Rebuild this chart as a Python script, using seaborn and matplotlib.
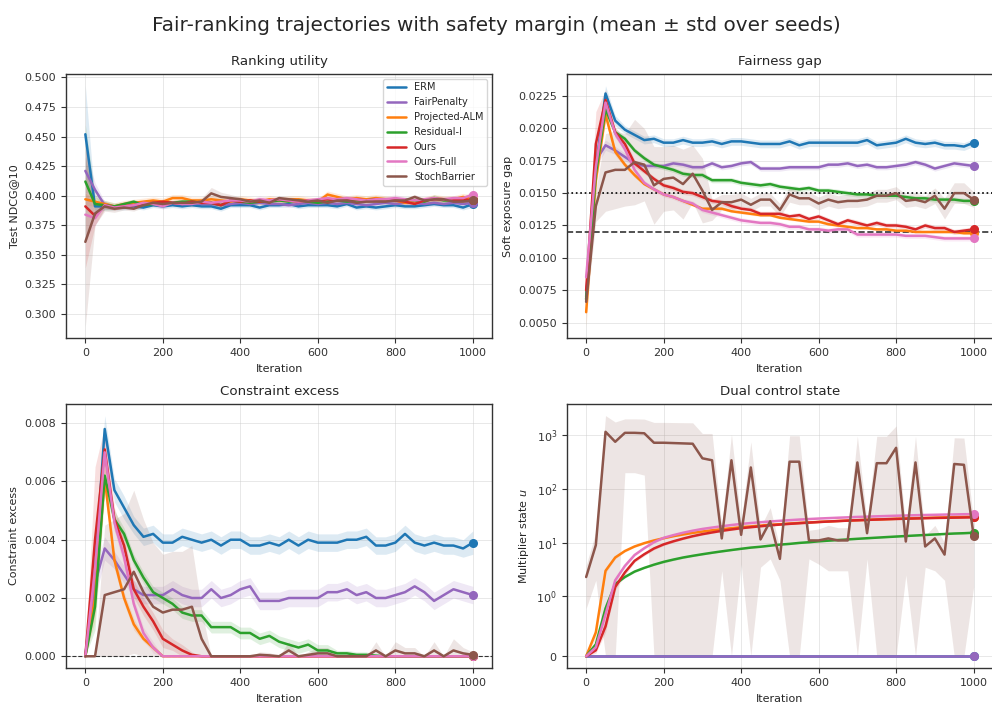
import numpy as np
import matplotlib
matplotlib.use("Agg")
import matplotlib.pyplot as plt
import seaborn as sns

iterations = list(range(0, 1001, 25))

methods = ["ERM", "FairPenalty", "Projected-ALM", "Residual-I", "Ours", "Ours-Full", "StochBarrier"]
colors = ["#1f77b4", "#9467bd", "#ff7f0e", "#2ca02c", "#d62728", "#e377c2", "#8c564b"]

# ---------------- Ranking utility (Test NDCG@10) ----------------
ndcg_erm = [0.452, 0.391, 0.391, 0.390, 0.390, 0.391, 0.390, 0.392, 0.391, 0.392, 0.391, 0.392, 0.391, 0.391,
            0.389, 0.392, 0.392, 0.392, 0.390, 0.392, 0.392, 0.393, 0.391, 0.392, 0.392, 0.392, 0.391, 0.393,
            0.390, 0.391, 0.390, 0.391, 0.392, 0.391, 0.391, 0.392, 0.393, 0.392, 0.392, 0.390, 0.393]
ndcg_fair = [0.421, 0.405, 0.392, 0.391, 0.392, 0.393, 0.393, 0.394, 0.393, 0.394, 0.393, 0.394, 0.393, 0.393,
             0.392, 0.393, 0.394, 0.393, 0.394, 0.393, 0.393, 0.392, 0.393, 0.394, 0.393, 0.394, 0.393, 0.394,
             0.393, 0.392, 0.393, 0.394, 0.393, 0.394, 0.394, 0.393, 0.394, 0.393, 0.394, 0.393, 0.394]
ndcg_palm = [0.397, 0.395, 0.393, 0.391, 0.393, 0.394, 0.395, 0.396, 0.395, 0.398, 0.398, 0.396, 0.396, 0.397,
             0.396, 0.395, 0.397, 0.396, 0.395, 0.397, 0.396, 0.397, 0.397, 0.396, 0.395, 0.401, 0.399, 0.397,
             0.398, 0.397, 0.398, 0.397, 0.396, 0.394, 0.395, 0.396, 0.398, 0.397, 0.397, 0.399, 0.397]
ndcg_resid = [0.412, 0.393, 0.392, 0.391, 0.393, 0.395, 0.392, 0.393, 0.394, 0.394, 0.395, 0.395, 0.394, 0.394,
              0.392, 0.396, 0.395, 0.394, 0.395, 0.395, 0.396, 0.395, 0.396, 0.395, 0.394, 0.395, 0.396, 0.395,
              0.396, 0.396, 0.397, 0.396, 0.396, 0.397, 0.396, 0.395, 0.398, 0.396, 0.396, 0.396, 0.396]
ndcg_ours = [0.391, 0.383, 0.392, 0.390, 0.391, 0.392, 0.393, 0.394, 0.395, 0.394, 0.393, 0.395, 0.394, 0.394,
             0.392, 0.396, 0.395, 0.396, 0.395, 0.396, 0.397, 0.396, 0.395, 0.396, 0.396, 0.397, 0.396, 0.397,
             0.397, 0.396, 0.397, 0.397, 0.396, 0.395, 0.393, 0.396, 0.397, 0.397, 0.396, 0.397, 0.396]
ndcg_full = [0.384, 0.381, 0.392, 0.390, 0.391, 0.392, 0.394, 0.393, 0.391, 0.394, 0.393, 0.393, 0.395, 0.394,
             0.395, 0.396, 0.396, 0.395, 0.397, 0.396, 0.397, 0.396, 0.395, 0.396, 0.397, 0.398, 0.397, 0.398,
             0.397, 0.396, 0.397, 0.397, 0.398, 0.397, 0.396, 0.397, 0.398, 0.397, 0.398, 0.398, 0.401]
ndcg_stoch = [0.361, 0.385, 0.391, 0.389, 0.390, 0.389, 0.392, 0.394, 0.393, 0.394, 0.394, 0.394, 0.395, 0.402,
              0.399, 0.398, 0.397, 0.395, 0.396, 0.394, 0.398, 0.397, 0.396, 0.395, 0.396, 0.394, 0.396, 0.396,
              0.394, 0.395, 0.395, 0.395, 0.396, 0.396, 0.399, 0.396, 0.397, 0.397, 0.395, 0.395, 0.396]

ndcg_sd_erm = [0.041, 0.004, 0.003, 0.002, 0.002, 0.002, 0.002, 0.002, 0.002, 0.002, 0.002, 0.002, 0.002, 0.002,
               0.002, 0.002, 0.002, 0.002, 0.002, 0.002, 0.002, 0.002, 0.002, 0.002, 0.002, 0.002, 0.002, 0.002,
               0.002, 0.002, 0.002, 0.002, 0.002, 0.002, 0.002, 0.002, 0.002, 0.002, 0.002, 0.002, 0.003]
ndcg_sd_fair = [0.018, 0.006, 0.003, 0.002, 0.002, 0.002, 0.002, 0.002, 0.002, 0.002, 0.002, 0.002, 0.002, 0.002,
                0.002, 0.002, 0.002, 0.002, 0.002, 0.002, 0.002, 0.002, 0.002, 0.002, 0.002, 0.002, 0.002, 0.002,
                0.002, 0.002, 0.002, 0.002, 0.002, 0.002, 0.002, 0.002, 0.002, 0.002, 0.002, 0.002, 0.003]
ndcg_sd_palm = [0.005, 0.004, 0.003, 0.003, 0.003, 0.003, 0.003, 0.003, 0.003, 0.003, 0.003, 0.003, 0.003, 0.003,
                0.003, 0.003, 0.003, 0.003, 0.003, 0.003, 0.003, 0.003, 0.003, 0.003, 0.003, 0.003, 0.003, 0.003,
                0.003, 0.003, 0.003, 0.003, 0.003, 0.003, 0.003, 0.003, 0.003, 0.003, 0.003, 0.003, 0.003]
ndcg_sd_resid = [0.048, 0.008, 0.004, 0.003, 0.002, 0.002, 0.002, 0.002, 0.002, 0.002, 0.002, 0.002, 0.002, 0.002,
                 0.002, 0.002, 0.002, 0.002, 0.002, 0.002, 0.002, 0.002, 0.002, 0.002, 0.002, 0.002, 0.002, 0.002,
                 0.002, 0.002, 0.002, 0.003, 0.002, 0.002, 0.002, 0.002, 0.003, 0.002, 0.002, 0.002, 0.003]
ndcg_sd_ours = [0.052, 0.008, 0.003, 0.002, 0.002, 0.002, 0.002, 0.002, 0.002, 0.002, 0.002, 0.002, 0.002, 0.002,
                0.002, 0.002, 0.002, 0.002, 0.002, 0.002, 0.002, 0.002, 0.002, 0.002, 0.002, 0.002, 0.002, 0.002,
                0.002, 0.002, 0.002, 0.002, 0.002, 0.002, 0.002, 0.002, 0.002, 0.002, 0.002, 0.002, 0.003]
ndcg_sd_full = [0.020, 0.006, 0.003, 0.002, 0.002, 0.002, 0.002, 0.002, 0.002, 0.002, 0.002, 0.002, 0.002, 0.002,
                0.002, 0.002, 0.002, 0.002, 0.003, 0.002, 0.002, 0.002, 0.002, 0.002, 0.002, 0.002, 0.003, 0.002,
                0.002, 0.002, 0.002, 0.002, 0.003, 0.002, 0.002, 0.002, 0.002, 0.002, 0.002, 0.002, 0.003]
ndcg_sd_stoch = [0.0715, 0.010, 0.004, 0.003, 0.002, 0.002, 0.002, 0.002, 0.002, 0.002, 0.003, 0.003, 0.003, 0.005,
                 0.004, 0.003, 0.002, 0.002, 0.002, 0.002, 0.002, 0.002, 0.002, 0.002, 0.002, 0.002, 0.002, 0.002,
                 0.002, 0.002, 0.002, 0.002, 0.002, 0.002, 0.002, 0.002, 0.002, 0.002, 0.002, 0.002, 0.002]

# ---------------- Fairness gap (soft exposure gap) ----------------
gap_erm = [0.0068, 0.0170, 0.0227, 0.0206, 0.0199, 0.0195, 0.0191, 0.0192, 0.0189, 0.0189, 0.0191, 0.0189,
           0.0189, 0.0190, 0.0188, 0.0190, 0.0190, 0.0189, 0.0188, 0.0188, 0.0188, 0.0190, 0.0187, 0.0189,
           0.0189, 0.0189, 0.0189, 0.0189, 0.0189, 0.0191, 0.0187, 0.0188, 0.0189, 0.0192, 0.0189, 0.0188,
           0.0189, 0.0187, 0.0187, 0.0186, 0.0189]
gap_fair = [0.0070, 0.0175, 0.0187, 0.0183, 0.0178, 0.0173, 0.0171, 0.0171, 0.0171, 0.0173, 0.0172, 0.0170,
            0.0170, 0.0173, 0.0170, 0.0171, 0.0173, 0.0174, 0.0169, 0.0169, 0.0169, 0.0170, 0.0170, 0.0170,
            0.0170, 0.0172, 0.0172, 0.0173, 0.0171, 0.0172, 0.0170, 0.0170, 0.0171, 0.0172, 0.0174, 0.0172,
            0.0169, 0.0171, 0.0173, 0.0172, 0.0171]
gap_palm = [0.0058, 0.0160, 0.0211, 0.0182, 0.0172, 0.0164, 0.0157, 0.0153, 0.0149, 0.0147, 0.0144, 0.0141,
            0.0138, 0.0138, 0.0138, 0.0136, 0.0135, 0.0134, 0.0133, 0.0133, 0.0131, 0.0130, 0.0129, 0.0128,
            0.0128, 0.0126, 0.0125, 0.0124, 0.0123, 0.0123, 0.0122, 0.0122, 0.0121, 0.0121, 0.0120, 0.0120,
            0.0120, 0.0120, 0.0120, 0.0119, 0.0119]
gap_resid = [0.0068, 0.0165, 0.0215, 0.0197, 0.0192, 0.0183, 0.0177, 0.0172, 0.0170, 0.0168, 0.0165, 0.0164,
             0.0164, 0.0160, 0.0160, 0.0160, 0.0158, 0.0157, 0.0156, 0.0157, 0.0155, 0.0154, 0.0153, 0.0154,
             0.0152, 0.0152, 0.0151, 0.0150, 0.0149, 0.0149, 0.0148, 0.0148, 0.0148, 0.0147, 0.0146, 0.0146,
             0.0145, 0.0145, 0.0145, 0.0144, 0.0144]
gap_ours = [0.0075, 0.0188, 0.0222, 0.0197, 0.0188, 0.0173, 0.0167, 0.0161, 0.0156, 0.0154, 0.0151, 0.0150,
            0.0147, 0.0144, 0.0143, 0.0140, 0.0138, 0.0137, 0.0134, 0.0134, 0.0134, 0.0132, 0.0133, 0.0130,
            0.0132, 0.0129, 0.0126, 0.0129, 0.0127, 0.0125, 0.0127, 0.0125, 0.0125, 0.0124, 0.0122, 0.0125,
            0.0123, 0.0123, 0.0120, 0.0121, 0.0122]
gap_full = [0.0085, 0.0170, 0.0220, 0.0196, 0.0184, 0.0168, 0.0158, 0.0153, 0.0149, 0.0147, 0.0144, 0.0142,
            0.0137, 0.0135, 0.0133, 0.0131, 0.0129, 0.0128, 0.0127, 0.0127, 0.0126, 0.0124, 0.0124, 0.0122,
            0.0122, 0.0121, 0.0122, 0.0122, 0.0118, 0.0118, 0.0118, 0.0118, 0.0118, 0.0117, 0.0117, 0.0117,
            0.0116, 0.0115, 0.0115, 0.0115, 0.0115]
gap_stoch = [0.0066, 0.0140, 0.0166, 0.0168, 0.0168, 0.0174, 0.0172, 0.0156, 0.0161, 0.0162, 0.0157, 0.0165,
             0.0152, 0.0137, 0.0143, 0.0143, 0.0145, 0.0141, 0.0145, 0.0145, 0.0137, 0.0149, 0.0146, 0.0146,
             0.0142, 0.0145, 0.0143, 0.0144, 0.0144, 0.0145, 0.0148, 0.0148, 0.0150, 0.0144, 0.0145, 0.0143,
             0.0148, 0.0138, 0.0150, 0.0150, 0.0145]

gap_sd_erm = [0.0008, 0.0006, 0.0006, 0.0004, 0.0003, 0.0003, 0.0003, 0.0003, 0.0003, 0.0003, 0.0003, 0.0003,
              0.0003, 0.0003, 0.0003, 0.0003, 0.0003, 0.0003, 0.0003, 0.0003, 0.0003, 0.0003, 0.0003, 0.0003,
              0.0003, 0.0003, 0.0003, 0.0003, 0.0003, 0.0003, 0.0003, 0.0003, 0.0003, 0.0003, 0.0003, 0.0003,
              0.0003, 0.0003, 0.0003, 0.0003, 0.0003]
gap_sd_fair = [0.0008, 0.0005, 0.0004, 0.0003, 0.0003, 0.0002, 0.0002, 0.0002, 0.0002, 0.0002, 0.0002, 0.0002,
               0.0002, 0.0002, 0.0002, 0.0002, 0.0002, 0.0002, 0.0002, 0.0002, 0.0002, 0.0002, 0.0002, 0.0002,
               0.0002, 0.0002, 0.0002, 0.0002, 0.0002, 0.0002, 0.0002, 0.0002, 0.0002, 0.0002, 0.0002, 0.0002,
               0.0002, 0.0002, 0.0002, 0.0002, 0.0002]
gap_sd_palm = [0.0011, 0.0008, 0.0005, 0.0003, 0.0002, 0.0002, 0.0001, 0.0001, 0.0001, 0.0001, 0.0001, 0.0001,
               0.0001, 0.0001, 0.0001, 0.0001, 0.0001, 0.0001, 0.0001, 0.0001, 0.0001, 0.0001, 0.0001, 0.0001,
               0.0001, 0.0001, 0.0001, 0.0001, 0.0001, 0.0001, 0.0001, 0.0001, 0.0001, 0.0001, 0.0001, 0.0001,
               0.0001, 0.0001, 0.0001, 0.0001, 0.0001]
gap_sd_resid = [0.0009, 0.0008, 0.0005, 0.0003, 0.0002, 0.0002, 0.0002, 0.0002, 0.0002, 0.0002, 0.0002, 0.0002,
                0.0002, 0.0002, 0.0002, 0.0002, 0.0002, 0.0002, 0.0002, 0.0002, 0.0002, 0.0002, 0.0002, 0.0002,
                0.0002, 0.0002, 0.0002, 0.0002, 0.0002, 0.0002, 0.0002, 0.0002, 0.0002, 0.0002, 0.0002, 0.0002,
                0.0002, 0.0002, 0.0002, 0.0002, 0.0002]
gap_sd_ours = [0.0009, 0.0025, 0.0008, 0.0004, 0.0003, 0.0003, 0.0002, 0.0002, 0.0002, 0.0002, 0.0002, 0.0002,
               0.0002, 0.0002, 0.0002, 0.0002, 0.0002, 0.0002, 0.0002, 0.0002, 0.0002, 0.0002, 0.0002, 0.0002,
               0.0002, 0.0002, 0.0002, 0.0002, 0.0002, 0.0002, 0.0002, 0.0002, 0.0002, 0.0002, 0.0002, 0.0002,
               0.0002, 0.0002, 0.0002, 0.0002, 0.0002]
gap_sd_full = [0.0008, 0.0010, 0.0006, 0.0003, 0.0003, 0.0002, 0.0002, 0.0002, 0.0002, 0.0002, 0.0002, 0.0002,
               0.0002, 0.0002, 0.0002, 0.0002, 0.0002, 0.0002, 0.0002, 0.0002, 0.0002, 0.0002, 0.0002, 0.0002,
               0.0002, 0.0002, 0.0002, 0.0002, 0.0002, 0.0002, 0.0002, 0.0002, 0.0002, 0.0002, 0.0002, 0.0002,
               0.0002, 0.0002, 0.0002, 0.0002, 0.0002]
gap_sd_stoch = [0.0008, 0.0012, 0.0030, 0.0030, 0.0028, 0.0033, 0.0028, 0.0030, 0.0025, 0.0025, 0.0027, 0.0022,
                0.0025, 0.0008, 0.0006, 0.0006, 0.0005, 0.0005, 0.0005, 0.0005, 0.0005, 0.0006, 0.0005, 0.0005,
                0.0005, 0.0005, 0.0005, 0.0005, 0.0005, 0.0005, 0.0005, 0.0005, 0.0005, 0.0005, 0.0005, 0.0005,
                0.0006, 0.0008, 0.0008, 0.0008, 0.0006]

# ---------------- Constraint excess ----------------
exc_erm = [0.0000, 0.0030, 0.0078, 0.0057, 0.0051, 0.0045, 0.0041, 0.0042, 0.0039, 0.0039, 0.0041, 0.0040,
           0.0039, 0.0040, 0.0038, 0.0040, 0.0040, 0.0038, 0.0038, 0.0039, 0.0038, 0.0040, 0.0038, 0.0040,
           0.0039, 0.0039, 0.0039, 0.0040, 0.0040, 0.0041, 0.0038, 0.0038, 0.0039, 0.0042, 0.0039, 0.0038,
           0.0039, 0.0038, 0.0038, 0.0037, 0.0039]
exc_fair = [0.0000, 0.0025, 0.0037, 0.0033, 0.0028, 0.0023, 0.0021, 0.0021, 0.0021, 0.0023, 0.0021, 0.0020,
            0.0020, 0.0023, 0.0020, 0.0021, 0.0023, 0.0024, 0.0019, 0.0019, 0.0019, 0.0020, 0.0020, 0.0020,
            0.0020, 0.0022, 0.0022, 0.0023, 0.0021, 0.0022, 0.0020, 0.0020, 0.0021, 0.0022, 0.0024, 0.0022,
            0.0019, 0.0021, 0.0023, 0.0022, 0.0021]
exc_palm = [0.0000, 0.0020, 0.0061, 0.0033, 0.0020, 0.0011, 0.0006, 0.0003, 0.0000, 0.0000, 0.0000, 0.0000,
            0.0000, 0.0000, 0.0000, 0.0000, 0.0000, 0.0000, 0.0000, 0.0000, 0.0000, 0.0000, 0.0000, 0.0000,
            0.0000, 0.0000, 0.0000, 0.0000, 0.0000, 0.0000, 0.0000, 0.0000, 0.0000, 0.0000, 0.0000, 0.0000,
            0.0000, 0.0000, 0.0000, 0.0000, 0.0000]
exc_resid = [0.0000, 0.0017, 0.0062, 0.0047, 0.0042, 0.0033, 0.0027, 0.0022, 0.0020, 0.0018, 0.0015, 0.0014,
             0.0014, 0.0010, 0.0010, 0.0010, 0.0008, 0.0008, 0.0006, 0.0007, 0.0005, 0.0004, 0.0003, 0.0004,
             0.0002, 0.0002, 0.0001, 0.0001, 0.00005, 0.00005, 0.00002, 0.0000, 0.0000, 0.0000, 0.0000, 0.0000,
             0.0000, 0.0000, 0.0000, 0.0000, 0.0000]
exc_ours = [0.0000, 0.0040, 0.0071, 0.0047, 0.0038, 0.0023, 0.0017, 0.0012, 0.0006, 0.0004, 0.0002, 0.00005,
            0.0000, 0.0000, 0.0000, 0.0000, 0.0000, 0.0000, 0.0000, 0.0000, 0.0000, 0.0000, 0.0000, 0.0000,
            0.0000, 0.0000, 0.0000, 0.0000, 0.0000, 0.0000, 0.0000, 0.0000, 0.0000, 0.0000, 0.0000, 0.0000,
            0.0000, 0.0000, 0.0000, 0.0000, 0.0000]
exc_full = [0.0000, 0.0030, 0.0070, 0.0046, 0.0034, 0.0018, 0.0008, 0.0003, 0.0000, 0.0000, 0.0000, 0.0000,
            0.0000, 0.0000, 0.0000, 0.0000, 0.0000, 0.0000, 0.0000, 0.0000, 0.0000, 0.0000, 0.0000, 0.0000,
            0.0000, 0.0000, 0.0000, 0.0000, 0.0000, 0.0000, 0.0000, 0.0000, 0.0000, 0.0000, 0.0000, 0.0000,
            0.0000, 0.0000, 0.0000, 0.0000, 0.0000]
exc_stoch = [0.0000, 0.0000, 0.0021, 0.0022, 0.0023, 0.0029, 0.0022, 0.0017, 0.0015, 0.0016, 0.0016, 0.0017,
             0.0006, 0.0000, 0.0000, 0.0000, 0.0000, 0.0000, 0.00005, 0.00003, 0.0000, 0.0002, 0.0000, 0.00005,
             0.0001, 0.0001, 0.0000, 0.0000, 0.0000, 0.0000, 0.0002, 0.0000, 0.0002, 0.0001, 0.0001, 0.0000,
             0.0002, 0.0000, 0.0002, 0.0001, 0.00005]

exc_sd_erm = [0.0000, 0.0008, 0.00046, 0.0004, 0.0004, 0.0003, 0.0003, 0.0003, 0.0003, 0.0003, 0.0003, 0.0003,
              0.0003, 0.0003, 0.0003, 0.0003, 0.0003, 0.0003, 0.0003, 0.0003, 0.0003, 0.0003, 0.0003, 0.0003,
              0.0003, 0.0003, 0.0003, 0.0003, 0.0003, 0.0003, 0.0003, 0.0003, 0.0003, 0.0003, 0.0003, 0.0003,
              0.0003, 0.0003, 0.0003, 0.0003, 0.0004]
exc_sd_fair = [0.0000, 0.0005, 0.0004, 0.0003, 0.0003, 0.0003, 0.0003, 0.0003, 0.0003, 0.0003, 0.0003, 0.0003,
               0.0003, 0.0003, 0.0003, 0.0003, 0.0003, 0.0003, 0.0003, 0.0003, 0.0003, 0.0003, 0.0003, 0.0003,
               0.0003, 0.0003, 0.0003, 0.0003, 0.0003, 0.0003, 0.0003, 0.0003, 0.0003, 0.0003, 0.0003, 0.0003,
               0.0003, 0.0003, 0.0003, 0.0003, 0.0003]
exc_sd_palm = [0.0000, 0.0008, 0.0005, 0.0003, 0.0002, 0.0002, 0.0001, 0.0001, 0.0000, 0.0000, 0.0000, 0.0000,
               0.0000, 0.0000, 0.0000, 0.0000, 0.0000, 0.0000, 0.0000, 0.0000, 0.0000, 0.0000, 0.0000, 0.0000,
               0.0000, 0.0000, 0.0000, 0.0000, 0.0000, 0.0000, 0.0000, 0.0000, 0.0000, 0.0000, 0.0000, 0.0000,
               0.0000, 0.0000, 0.0000, 0.0000, 0.0000]
exc_sd_resid = [0.0000, 0.0008, 0.0005, 0.0003, 0.0002, 0.0002, 0.0002, 0.0002, 0.0002, 0.0002, 0.0002, 0.0002,
                0.0002, 0.0002, 0.0002, 0.0002, 0.0002, 0.0002, 0.0002, 0.0002, 0.0002, 0.0002, 0.0002, 0.0002,
                0.0002, 0.0002, 0.0001, 0.0001, 0.0001, 0.0001, 0.00005, 0.0000, 0.0000, 0.0000, 0.0000, 0.0000,
                0.0000, 0.0000, 0.0000, 0.0000, 0.0000]
exc_sd_ours = [0.0000, 0.0025, 0.0008, 0.0004, 0.0003, 0.0003, 0.0003, 0.0003, 0.0003, 0.0002, 0.0002, 0.0001,
               0.0000, 0.0000, 0.0000, 0.0000, 0.0000, 0.0000, 0.0000, 0.0000, 0.0000, 0.0000, 0.0000, 0.0000,
               0.0000, 0.0000, 0.0000, 0.0000, 0.0000, 0.0000, 0.0000, 0.0000, 0.0000, 0.0000, 0.0000, 0.0000,
               0.0000, 0.0000, 0.0000, 0.0000, 0.0000]
exc_sd_full = [0.0000, 0.0010, 0.0006, 0.0003, 0.0003, 0.0002, 0.0002, 0.0002, 0.0000, 0.0000, 0.0000, 0.0000,
               0.0000, 0.0000, 0.0000, 0.0000, 0.0000, 0.0000, 0.0000, 0.0000, 0.0000, 0.0000, 0.0000, 0.0000,
               0.0000, 0.0000, 0.0000, 0.0000, 0.0000, 0.0000, 0.0000, 0.0000, 0.0000, 0.0000, 0.0000, 0.0000,
               0.0000, 0.0000, 0.0000, 0.0000, 0.0000]
exc_sd_stoch = [0.0000, 0.0000, 0.0024, 0.0025, 0.0026, 0.0028, 0.0025, 0.0022, 0.0020, 0.0020, 0.0020, 0.0021,
                0.0010, 0.0000, 0.0000, 0.0000, 0.0000, 0.0000, 0.0001, 0.0001, 0.0000, 0.0003, 0.0000, 0.0001,
                0.0002, 0.0002, 0.0000, 0.0000, 0.0000, 0.0000, 0.0003, 0.0000, 0.0003, 0.0002, 0.0002, 0.0000,
                0.0003, 0.0000, 0.0004, 0.0002, 0.0001]

# ---------------- Dual control state (multiplier u) ----------------
dual_erm = [0.0, 0.0, 0.0, 0.0, 0.0, 0.0, 0.0, 0.0, 0.0, 0.0, 0.0, 0.0, 0.0, 0.0, 0.0, 0.0, 0.0, 0.0, 0.0, 0.0,
            0.0, 0.0, 0.0, 0.0, 0.0, 0.0, 0.0, 0.0, 0.0, 0.0, 0.0, 0.0, 0.0, 0.0, 0.0, 0.0, 0.0, 0.0, 0.0, 0.0, 0.0]
dual_fair = [0.0, 0.0, 0.0, 0.0, 0.0, 0.0, 0.0, 0.0, 0.0, 0.0, 0.0, 0.0, 0.0, 0.0, 0.0, 0.0, 0.0, 0.0, 0.0, 0.0,
             0.0, 0.0, 0.0, 0.0, 0.0, 0.0, 0.0, 0.0, 0.0, 0.0, 0.0, 0.0, 0.0, 0.0, 0.0, 0.0, 0.0, 0.0, 0.0, 0.0, 0.0]
dual_palm = [0.0, 0.4, 3.0, 5.3, 7.0, 8.5, 9.8, 11.0, 12.1, 13.2, 14.2, 15.2, 16.1, 17.0, 17.8, 18.6, 19.4, 20.1,
             20.8, 21.5, 22.1, 22.7, 23.3, 23.8, 24.3, 24.8, 25.3, 25.8, 26.2, 26.6, 27.0, 27.4, 27.8, 28.2, 28.6,
             28.9, 29.2, 29.5, 29.8, 30.1, 30.4]
dual_resid = [0.0, 0.2, 0.8, 1.7, 2.3, 2.9, 3.4, 3.9, 4.4, 4.85, 5.3, 5.7, 6.1, 6.5, 6.9, 7.3, 7.7, 8.1, 8.4, 8.8,
              9.2, 9.5, 9.9, 10.2, 10.6, 10.9, 11.2, 11.5, 11.8, 12.1, 12.4, 12.7, 13.0, 13.3, 13.6, 13.9, 14.2,
              14.5, 14.8, 15.0, 15.3]
dual_ours = [0.0, 0.1, 0.5, 1.5, 2.8, 4.6, 6.1, 7.8, 9.3, 10.6, 11.9, 13.2, 14.4, 15.5, 16.6, 17.6, 18.6, 19.4,
             20.2, 21.0, 21.7, 22.4, 23.0, 23.6, 24.2, 24.7, 25.2, 25.7, 26.1, 26.5, 26.9, 27.3, 27.6, 27.9, 28.2,
             28.5, 28.8, 29.0, 29.2, 29.4, 29.6]
dual_full = [0.0, 0.15, 0.7, 2.0, 3.7, 5.9, 7.9, 10.2, 12.3, 13.8, 15.3, 16.7, 18.0, 19.1, 20.2, 21.3, 22.3, 23.2,
             24.0, 24.8, 25.5, 26.2, 26.9, 27.5, 28.1, 28.6, 29.1, 29.6, 30.1, 30.5, 30.9, 31.3, 31.7, 32.0, 32.4,
             32.7, 33.0, 33.3, 33.5, 33.8, 34.0]
dual_stoch = [2.3, 9.0, 1150.0, 750.0, 1100.0, 1100.0, 1080.0, 720.0, 720.0, 710.0, 700.0, 690.0, 370.0, 340.0,
              12.0, 340.0, 14.0, 250.0, 11.5, 25.0, 5.0, 320.0, 320.0, 11.0, 11.0, 12.0, 11.0, 11.0, 310.0, 15.0,
              300.0, 300.0, 580.0, 10.5, 310.0, 8.5, 12.0, 6.0, 290.0, 280.0, 13.5]

dual_sd_erm = [0.0, 0.0, 0.0, 0.0, 0.0, 0.0, 0.0, 0.0, 0.0, 0.0, 0.0, 0.0, 0.0, 0.0, 0.0, 0.0, 0.0, 0.0, 0.0, 0.0,
               0.0, 0.0, 0.0, 0.0, 0.0, 0.0, 0.0, 0.0, 0.0, 0.0, 0.0, 0.0, 0.0, 0.0, 0.0, 0.0, 0.0, 0.0, 0.0, 0.0, 0.0]
dual_sd_fair = [0.0, 0.0, 0.0, 0.0, 0.0, 0.0, 0.0, 0.0, 0.0, 0.0, 0.0, 0.0, 0.0, 0.0, 0.0, 0.0, 0.0, 0.0, 0.0, 0.0,
                0.0, 0.0, 0.0, 0.0, 0.0, 0.0, 0.0, 0.0, 0.0, 0.0, 0.0, 0.0, 0.0, 0.0, 0.0, 0.0, 0.0, 0.0, 0.0, 0.0, 0.0]
dual_sd_palm = [0.0, 0.1, 0.3, 0.3, 0.3, 0.3, 0.4, 0.4, 0.4, 0.4, 0.4, 0.5, 0.5, 0.5, 0.5, 0.5, 0.5, 0.5, 0.6, 0.6,
                0.6, 0.6, 0.6, 0.6, 0.6, 0.6, 0.7, 0.7, 0.7, 0.7, 0.7, 0.7, 0.7, 0.7, 0.8, 0.8, 0.8, 0.8, 0.8, 0.8, 0.8]
dual_sd_resid = [0.0, 0.05, 0.1, 0.1, 0.1, 0.1, 0.1, 0.1, 0.2, 0.2, 0.2, 0.2, 0.2, 0.2, 0.2, 0.2, 0.2, 0.2, 0.2,
                 0.2, 0.3, 0.3, 0.3, 0.3, 0.3, 0.3, 0.3, 0.3, 0.3, 0.3, 0.3, 0.3, 0.3, 0.3, 0.3, 0.3, 0.4, 0.4, 0.4,
                 0.4, 0.4]
dual_sd_ours = [0.0, 0.05, 0.1, 0.2, 0.3, 0.3, 0.4, 0.4, 0.5, 0.5, 0.5, 0.6, 0.6, 0.6, 0.6, 0.7, 0.7, 0.7, 0.7,
                0.7, 0.8, 0.8, 0.8, 0.8, 0.8, 0.8, 0.9, 0.9, 0.9, 0.9, 0.9, 0.9, 0.9, 0.9, 1.0, 1.0, 1.0, 1.0, 1.0,
                1.0, 1.0]
dual_sd_full = [0.0, 0.05, 0.1, 0.2, 0.3, 0.3, 0.4, 0.4, 0.5, 0.5, 0.5, 0.6, 0.6, 0.6, 0.6, 0.7, 0.7, 0.7, 0.7,
                0.7, 0.8, 0.8, 0.8, 0.8, 0.8, 0.8, 0.9, 0.9, 0.9, 0.9, 0.9, 0.9, 0.9, 0.9, 1.0, 1.0, 1.0, 1.0, 1.0,
                1.0, 1.0]
dual_sd_stoch = [1.5, 7.0, 1150.0, 1000.0, 900.0, 900.0, 900.0, 1000.0, 1000.0, 1000.0, 1000.0, 1000.0, 700.0,
                 730.0, 9.0, 700.0, 10.0, 500.0, 8.0, 20.0, 3.0, 650.0, 650.0, 6.0, 7.0, 9.0, 8.0, 8.0, 650.0, 10.0,
                 650.0, 650.0, 900.0, 8.0, 650.0, 5.0, 9.0, 4.0, 600.0, 600.0, 12.0]

ndcg_means = [ndcg_erm, ndcg_fair, ndcg_palm, ndcg_resid, ndcg_ours, ndcg_full, ndcg_stoch]
ndcg_sds = [ndcg_sd_erm, ndcg_sd_fair, ndcg_sd_palm, ndcg_sd_resid, ndcg_sd_ours, ndcg_sd_full, ndcg_sd_stoch]
gap_means = [gap_erm, gap_fair, gap_palm, gap_resid, gap_ours, gap_full, gap_stoch]
gap_sds = [gap_sd_erm, gap_sd_fair, gap_sd_palm, gap_sd_resid, gap_sd_ours, gap_sd_full, gap_sd_stoch]
exc_means = [exc_erm, exc_fair, exc_palm, exc_resid, exc_ours, exc_full, exc_stoch]
exc_sds = [exc_sd_erm, exc_sd_fair, exc_sd_palm, exc_sd_resid, exc_sd_ours, exc_sd_full, exc_sd_stoch]
dual_means = [dual_erm, dual_fair, dual_palm, dual_resid, dual_ours, dual_full, dual_stoch]
dual_sds = [dual_sd_erm, dual_sd_fair, dual_sd_palm, dual_sd_resid, dual_sd_ours, dual_sd_full, dual_sd_stoch]

for group in (ndcg_means, ndcg_sds, gap_means, gap_sds, exc_means, exc_sds, dual_means, dual_sds):
    for arr in group:
        assert len(arr) == len(iterations), len(arr)

gap_threshold = 0.015
gap_target = 0.012

# ---------------- style ----------------
sns.set_theme(style="ticks")
plt.rcParams.update({
    "font.family": ["DejaVu Sans"],
    "font.size": 8,
    "axes.titlesize": 9.6,
    "axes.labelsize": 8,
    "xtick.labelsize": 8,
    "ytick.labelsize": 8,
    "axes.edgecolor": "#333333",
    "axes.linewidth": 1.0,
    "xtick.color": "#333333",
    "ytick.color": "#333333",
    "xtick.major.size": 3.5,
    "ytick.major.size": 3.5,
    "xtick.major.width": 0.8,
    "ytick.major.width": 0.8,
})

fig, axes = plt.subplots(2, 2, figsize=(9.92, 7.02), dpi=100)
fig.subplots_adjust(left=0.0665, right=1.001, top=0.895, bottom=0.048, wspace=0.175, hspace=0.246)

x = np.array(iterations)


def draw_panel(ax, means, sds, clip_zero=False, legend=False):
    for name, col, m, s in zip(methods, colors, means, sds):
        m = np.asarray(m, dtype=float)
        s = np.asarray(s, dtype=float)
        lo = m - s
        if clip_zero:
            lo = np.maximum(lo, 0.0)
        ax.fill_between(x, lo, m + s, color=col, alpha=0.15, linewidth=0)
        sns.lineplot(x=x, y=m, color=col, linewidth=1.8, label=name if legend else None,
                     legend=False, ax=ax)
        ax.plot(x[-1:], m[-1:], "o", color=col, markersize=5.5)
    ax.grid(True, color="#cccccc", alpha=0.45, linewidth=0.7)
    ax.set_xlabel("Iteration")


ax = axes[0, 0]
draw_panel(ax, ndcg_means, ndcg_sds, legend=True)
ax.set_title("Ranking utility")
ax.set_ylabel("Test NDCG@10")
ax.legend(loc="upper right", fontsize=7, frameon=True, framealpha=0.8, edgecolor="#cccccc",
          handlelength=2.0, borderpad=0.4, labelspacing=0.5)

ax = axes[0, 1]
draw_panel(ax, gap_means, gap_sds)
ax.axhline(gap_threshold, color="black", linestyle=":", linewidth=1.2, zorder=1)
ax.axhline(gap_target, color="#333333", linestyle="--", linewidth=1.2, zorder=1)
ax.set_title("Fairness gap")
ax.set_ylabel("Soft exposure gap")

ax = axes[1, 0]
draw_panel(ax, exc_means, exc_sds, clip_zero=True)
ax.axhline(0.0, color="#333333", linestyle="--", linewidth=0.8, zorder=1)
ax.set_title("Constraint excess")
ax.set_ylabel("Constraint excess")

ax = axes[1, 1]
draw_panel(ax, dual_means, dual_sds, clip_zero=True)
ax.set_yscale("symlog", linthresh=1.0)
ax.set_title("Dual control state")
ax.set_ylabel("Multiplier state $u$")

for a in axes.flat:
    a.set_xticks([0, 200, 400, 600, 800, 1000])

fig.suptitle("Fair-ranking trajectories with safety margin (mean ± std over seeds)", fontsize=14.4, y=0.977)

fig.savefig("out.png", dpi=100)
